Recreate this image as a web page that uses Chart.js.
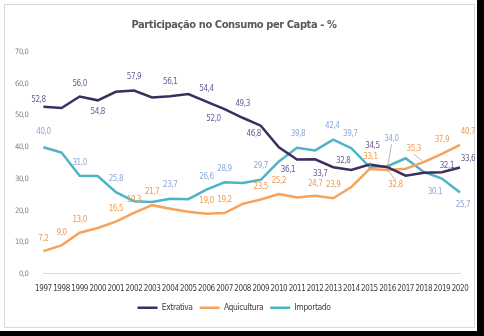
<!DOCTYPE html>
<html lang="pt">

<head>
    <meta charset="UTF-8">
    <script src="https://cdn.jsdelivr.net/npm/chart.js"></script>
    <title>Participação no Consumo per Capta</title>
    <style>
        * {
            margin: 0px;
            padding: 0px;
        }

        body {
            width: 484px;
            height: 336px;
            background: #000;
            position: relative;
            overflow: hidden;
        }

        .fundo {
            position: absolute;
            left: 0;
            top: 0;
            width: 477px;
            height: 331px;
            background: #fff;
        }

        .moldura {
            position: absolute;
            left: 4px;
            top: 4px;
            width: 469px;
            height: 322px;
            border: 1px solid #d9d9d9;
        }

        #grafico {
            position: absolute;
            left: 0;
            top: 0;
        }
    </style>
</head>

<body>
    <div class="fundo">
        <div class="moldura"></div>
        <canvas id="grafico" width="477" height="331"></canvas>
    </div>

    <script>
        const anos = ['1997', '1998', '1999', '2000', '2001', '2002', '2003', '2004', '2005', '2006', '2007', '2008',
            '2009', '2010', '2011', '2012', '2013', '2014', '2015', '2016', '2017', '2018', '2019', '2020'];
        const extrativa = [52.8, 52.4, 56.0, 54.8, 57.5, 57.9, 55.7, 56.1, 56.8, 54.4, 52.0, 49.3,
            46.8, 40.0, 36.1, 36.2, 33.7, 32.8, 34.5, 33.7, 31.0, 31.9, 32.1, 33.6];
        const aquicultura = [7.2, 9.0, 13.0, 14.5, 16.5, 19.3, 21.7, 20.6, 19.6, 19.0, 19.2, 22.1,
            23.5, 25.2, 24.1, 24.7, 23.9, 27.4, 33.1, 32.8, 33.2, 35.3, 37.9, 40.7];
        const importado = [40.0, 38.3, 31.0, 30.9, 25.8, 22.9, 22.7, 23.7, 23.6, 26.6, 28.9, 28.7,
            29.7, 35.5, 39.8, 39.0, 42.4, 39.7, 33.8, 34.0, 36.5, 32.2, 30.1, 25.7];
        const marcasY = [0, 10, 20, 30, 40, 50, 60, 70];

        const fonte = "'DejaVu Sans Condensed', 'DejaVu Sans', sans-serif";
        const virgula = v => v.toFixed(1).replace('.', ',');

        // rótulos de dados: índice do ano -> [dx, dy, linha-guia]
        const rotulos = [
            { cor: '#6b5b95', pos: { 0: [-5, -7], 2: [0, -13], 3: [0, 12], 5: [0, -14], 7: [0, -14], 9: [0, -13], 10: [-11, 10],
                11: [0, -14], 12: [-7, 8], 14: [-9, 10], 16: [-13, 7], 17: [-8, -9], 18: [3, -19], 22: [5, -6], 23: [8, -9] } },
            { cor: '#f39a4c', pos: { 0: [0, -12], 1: [0, -12], 2: [0, -13], 4: [0, -13], 5: [0, -13], 6: [0, -13], 9: [0, -13],
                10: [0, -13], 12: [0, -13], 13: [0, -13], 15: [0, -12], 16: [0, -13], 18: [1, -12, true], 19: [8, 15, true],
                21: [-10, -13, true], 22: [0, -14], 23: [8, -13] } },
            { cor: '#8ea9db', pos: { 0: [0, -15], 2: [0, -13], 4: [0, -13], 7: [0, -14], 9: [0, -13], 10: [0, -13], 12: [0, -14],
                14: [1, -14], 16: [-1, -14], 17: [-1, -14], 19: [4, -27, true], 22: [-7, 13], 23: [3, 12] } }
        ];

        // texto mais estreito, parecido com a fonte do original
        const pluginEspaco = {
            id: 'espaco',
            beforeUpdate(chart) { chart.ctx.letterSpacing = '-0.4px'; },
            beforeDraw(chart) { chart.ctx.letterSpacing = '-0.4px'; }
        };

        const pluginRotulos = {
            id: 'rotulos',
            afterDatasetsDraw(chart) {
                const c = chart.ctx;
                c.save();
                c.font = '8px ' + fonte;
                c.textAlign = 'center';
                c.textBaseline = 'middle';
                chart.data.datasets.forEach((ds, d) => {
                    const meta = chart.getDatasetMeta(d);
                    const cfg = rotulos[d];
                    Object.keys(cfg.pos).forEach(k => {
                        const i = Number(k);
                        const p = meta.data[i];
                        const [dx, dy, guia] = cfg.pos[k];
                        const x = p.x + dx, y = p.y + dy;
                        if (guia) {
                            c.strokeStyle = '#a6a6a6';
                            c.lineWidth = 0.8;
                            c.beginPath();
                            c.moveTo(x, y + (dy < 0 ? 5 : -5));
                            c.lineTo(p.x, p.y);
                            c.stroke();
                        }
                        c.fillStyle = cfg.cor;
                        c.fillText(virgula(ds.data[i]), x, y);
                    });
                });
                c.restore();
            }
        };

        const ctx = document.getElementById('grafico').getContext('2d');
        const grafico = new Chart(ctx, {
            type: 'line',
            data: {
                labels: anos,
                datasets: [{
                    label: 'Extrativa',
                    data: extrativa,
                    borderColor: '#3f2d5e',
                    backgroundColor: '#3f2d5e',
                    borderWidth: 2.5,
                    pointRadius: 0,
                    pointStyle: 'line',
                    tension: 0
                }, {
                    label: 'Aquicultura',
                    data: aquicultura,
                    borderColor: '#f5a35c',
                    backgroundColor: '#f5a35c',
                    borderWidth: 2.5,
                    pointRadius: 0,
                    pointStyle: 'line',
                    tension: 0
                }, {
                    label: 'Importado',
                    data: importado,
                    borderColor: '#4db3c6',
                    backgroundColor: '#4db3c6',
                    borderWidth: 2.5,
                    pointRadius: 0,
                    pointStyle: 'line',
                    tension: 0
                }]
            },
            options: {
                responsive: false,
                animation: false,
                layout: {
                    padding: { left: 8, right: 17, top: 14, bottom: 9 }
                },
                scales: {
                    x: {
                        grid: { display: false },
                        border: { display: true, color: '#d9d9d9', width: 1 },
                        ticks: {
                            color: '#404040',
                            font: { family: fonte, size: 8 },
                            maxRotation: 0,
                            autoSkip: false,
                            padding: 2.5
                        }
                    },
                    y: {
                        min: 0,
                        max: 70,
                        grid: { display: false },
                        border: { display: false },
                        afterBuildTicks: axis => {
                            axis.ticks = marcasY.map(v => ({ value: v }));
                        },
                        ticks: {
                            color: '#7f7f7f',
                            font: { family: fonte, size: 7.5 },
                            padding: 7,
                            callback: v => virgula(v)
                        }
                    }
                },
                plugins: {
                    title: {
                        display: true,
                        text: 'Participação no Consumo per Capta - %',
                        color: '#595959',
                        font: { family: fonte, size: 11, weight: 'bold' },
                        padding: { top: 5, bottom: 20 }
                    },
                    legend: {
                        position: 'bottom',
                        labels: {
                            usePointStyle: true,
                            pointStyleWidth: 20,
                            color: '#404040',
                            font: { family: fonte, size: 8.5 },
                            padding: 7
                        }
                    },
                    tooltip: { enabled: false }
                }
            },
            plugins: [pluginEspaco, pluginRotulos]
        });
    </script>
</body>

</html>
